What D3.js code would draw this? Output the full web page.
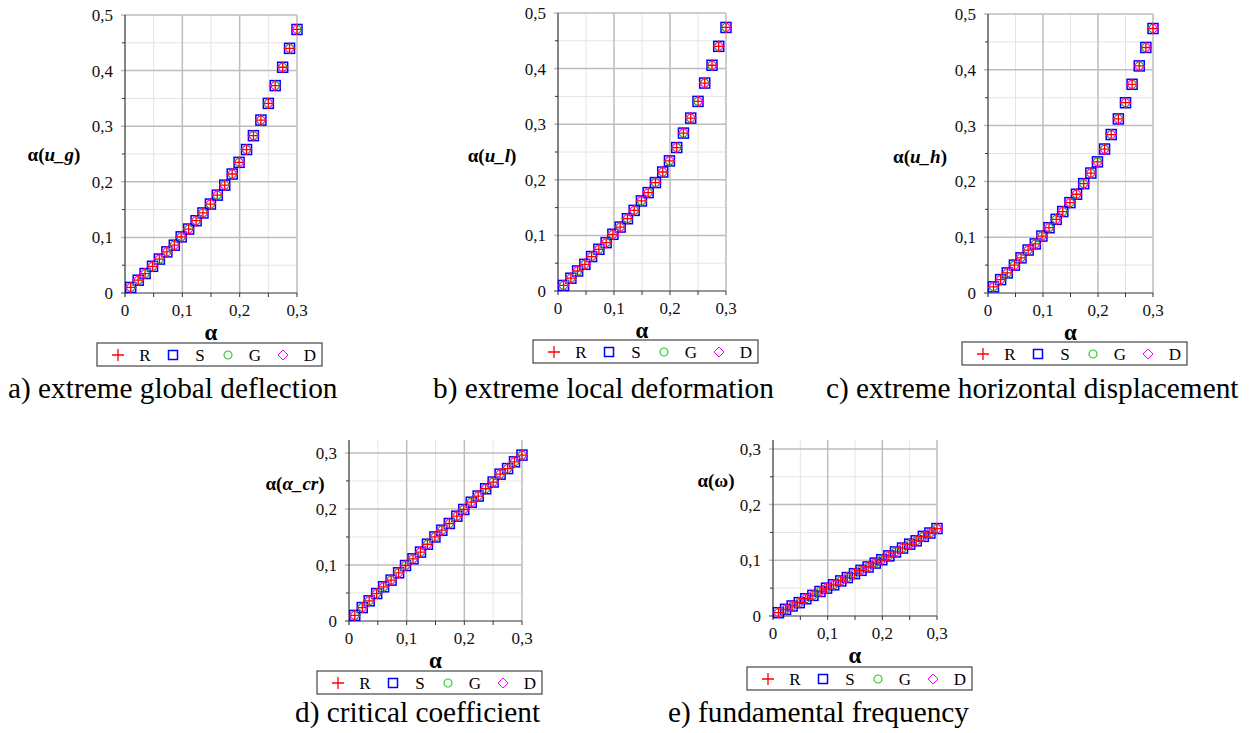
<!DOCTYPE html>
<html>
<head>
<meta charset="utf-8">
<script src="https://cdn.jsdelivr.net/npm/d3@7"></script>
<style>
    body { margin: 0; background: #fff; }
    svg { display: block; }
</style>
</head>
<body>
<div id="svg_wrapper"></div>
<script>
// alpha values on the x axis (same for every panel)
const alphas = [0.010, 0.023, 0.035, 0.048, 0.060, 0.073, 0.086, 0.098, 0.111, 0.124, 0.136, 0.149,
                0.161, 0.174, 0.187, 0.199, 0.212, 0.224, 0.237, 0.250, 0.262, 0.275, 0.287, 0.300];

const globalDeflection = [0.010, 0.023, 0.035, 0.048, 0.061, 0.074, 0.086, 0.101, 0.115, 0.130, 0.144, 0.160,
                          0.176, 0.194, 0.214, 0.235, 0.258, 0.283, 0.311, 0.341, 0.373, 0.406, 0.440, 0.474];
const localDeformation = [0.010, 0.023, 0.036, 0.048, 0.062, 0.075, 0.087, 0.102, 0.115, 0.130, 0.145, 0.162,
                          0.177, 0.195, 0.214, 0.234, 0.258, 0.284, 0.311, 0.341, 0.374, 0.406, 0.440, 0.474];
const horizontalDisplacement = [0.011, 0.024, 0.036, 0.050, 0.063, 0.077, 0.088, 0.102, 0.117, 0.132, 0.146, 0.162,
                                0.177, 0.196, 0.215, 0.235, 0.258, 0.284, 0.312, 0.341, 0.374, 0.407, 0.440, 0.474];
const criticalCoefficient = [0.010, 0.024, 0.036, 0.049, 0.061, 0.073, 0.086, 0.099, 0.111, 0.123, 0.137, 0.150,
                             0.162, 0.174, 0.187, 0.199, 0.212, 0.223, 0.236, 0.248, 0.262, 0.272, 0.284, 0.296];
const fundamentalFrequency = [0.006, 0.012, 0.018, 0.024, 0.031, 0.037, 0.044, 0.050, 0.056, 0.063, 0.069, 0.076,
                              0.082, 0.088, 0.095, 0.101, 0.108, 0.115, 0.122, 0.129, 0.135, 0.143, 0.149, 0.157];

const xTicks = [0, 0.1, 0.2, 0.3];
const seriesNames = ['R', 'S', 'G', 'D'];
const seriesColors = ['#ff0000', '#0000ff', '#33cc33', '#ff00ff'];

const panels = [
    { values: globalDeflection, yMax: 0.5, yTicks: [0, 0.1, 0.2, 0.3, 0.4, 0.5],
      label: ['α(', 'u_g', ')'], caption: 'a) extreme global deflection',
      x0: 125, x1: 297, yb: 293, yt: 15, lab: [54, 155], leg: [97, 343], cap: [8, 398] },
    { values: localDeformation, yMax: 0.5, yTicks: [0, 0.1, 0.2, 0.3, 0.4, 0.5],
      label: ['α(', 'u_l', ')'], caption: 'b) extreme local deformation',
      x0: 558, x1: 726, yb: 291, yt: 13, lab: [492, 156], leg: [533, 340], cap: [433, 398] },
    { values: horizontalDisplacement, yMax: 0.5, yTicks: [0, 0.1, 0.2, 0.3, 0.4, 0.5],
      label: ['α(', 'u_h', ')'], caption: 'c) extreme horizontal displacement',
      x0: 988, x1: 1153, yb: 293, yt: 14, lab: [920, 157], leg: [962, 342], cap: [826, 398] },
    { values: criticalCoefficient, yMax: 0.323, yTicks: [0, 0.1, 0.2, 0.3],
      label: ['α(', 'α_cr', ')'], caption: 'd) critical coefficient',
      x0: 349, x1: 522, yb: 621, yt: 440, lab: [295, 484], leg: [317, 671], cap: [295, 722] },
    { values: fundamentalFrequency, yMax: 0.316, yTicks: [0, 0.1, 0.2, 0.3],
      label: ['α(ω)', '', ''], caption: 'e) fundamental frequency',
      x0: 773, x1: 937, yb: 616, yt: 440, lab: [716, 481], leg: [747, 667], cap: [668, 722] }
];

const width = 1256, height = 733;
const fontFamily = '"Liberation Serif", "Times New Roman", "DejaVu Serif", serif';
const fmt = v => d3.format('.1f')(v).replace('.', ',').replace(/^0,0$/, '0');

const svg = d3.select('#svg_wrapper')
    .append('svg')
    .attr('width', width)
    .attr('height', height)
    .attr('viewBox', `0 0 ${width} ${height}`)
    .attr('font-family', fontFamily);

function drawMarker(g, i, size) {
    const h = size / 2;
    if (i === 0) {
        g.append('path').attr('d', `M${-h},0H${h}M0,${-h}V${h}`)
            .attr('stroke', seriesColors[0]).attr('stroke-width', 1.3).attr('fill', 'none');
    } else if (i === 1) {
        g.append('rect').attr('x', -h + 0.5).attr('y', -h + 0.5).attr('width', size - 1).attr('height', size - 1)
            .attr('stroke', seriesColors[1]).attr('stroke-width', 1.5).attr('fill', 'none');
    } else if (i === 2) {
        g.append('circle').attr('r', h - 1)
            .attr('stroke', seriesColors[2]).attr('stroke-width', 1.2).attr('fill', 'none');
    } else {
        g.append('path').attr('d', `M0,${-h}L${h},0L0,${h}L${-h},0Z`)
            .attr('stroke', seriesColors[3]).attr('stroke-width', 1).attr('fill', 'none');
    }
}

function drawPanel(p) {
    const x = d3.scaleLinear().domain([0, 0.3]).range([p.x0, p.x1]);
    const y = d3.scaleLinear().domain([0, p.yMax]).range([p.yb, p.yt]);
    const g = svg.append('g');

    const minorX = d3.range(0.05, 0.31, 0.1);
    const minorY = d3.range(0.05, p.yMax, 0.1);

    // grid
    g.selectAll('.mx').data(minorX).enter().append('line')
        .attr('x1', d => x(d)).attr('x2', d => x(d)).attr('y1', p.yb).attr('y2', p.yt)
        .attr('stroke', '#e4e4e4').attr('stroke-width', 1);
    g.selectAll('.my').data(minorY).enter().append('line')
        .attr('x1', p.x0).attr('x2', p.x1).attr('y1', d => y(d)).attr('y2', d => y(d))
        .attr('stroke', '#e4e4e4').attr('stroke-width', 1);
    g.selectAll('.gx').data(xTicks.slice(1)).enter().append('line')
        .attr('x1', d => x(d)).attr('x2', d => x(d)).attr('y1', p.yb).attr('y2', p.yt)
        .attr('stroke', '#bdbdbd').attr('stroke-width', 1.5);
    g.selectAll('.gy').data(p.yTicks.slice(1)).enter().append('line')
        .attr('x1', p.x0 - 4).attr('x2', p.x1).attr('y1', d => y(d)).attr('y2', d => y(d))
        .attr('stroke', '#bdbdbd').attr('stroke-width', 1.5);

    // axes
    const axisColor = '#333';
    g.append('line').attr('x1', p.x0).attr('x2', p.x0).attr('y1', p.yt).attr('y2', p.yb + 4)
        .attr('stroke', axisColor).attr('stroke-width', 1.2);
    g.append('line').attr('x1', p.x0 - 4).attr('x2', p.x1).attr('y1', p.yb).attr('y2', p.yb)
        .attr('stroke', axisColor).attr('stroke-width', 1.2);
    g.selectAll('.tx').data(minorX.concat(xTicks.slice(1))).enter().append('line')
        .attr('x1', d => x(d)).attr('x2', d => x(d)).attr('y1', p.yb).attr('y2', p.yb + 4)
        .attr('stroke', axisColor).attr('stroke-width', 1);
    g.selectAll('.ty').data(minorY).enter().append('line')
        .attr('x1', p.x0 - 3).attr('x2', p.x0).attr('y1', d => y(d)).attr('y2', d => y(d))
        .attr('stroke', axisColor).attr('stroke-width', 1);

    // tick labels
    g.selectAll('.lx').data(xTicks).enter().append('text')
        .attr('x', d => x(d)).attr('y', p.yb + 23)
        .attr('text-anchor', 'middle').attr('font-size', 17).attr('fill', '#111')
        .text(fmt);
    g.selectAll('.ly').data(p.yTicks).enter().append('text')
        .attr('x', p.x0 - 12).attr('y', d => y(d) + 6)
        .attr('text-anchor', 'end').attr('font-size', 17).attr('fill', '#111')
        .text(fmt);

    // axis titles
    g.append('text').attr('x', (p.x0 + p.x1) / 2).attr('y', p.yb + 47)
        .attr('text-anchor', 'middle').attr('font-size', 23).attr('font-weight', 'bold')
        .text('α');
    const yl = g.append('text').attr('x', p.lab[0]).attr('y', p.lab[1] + 6)
        .attr('text-anchor', 'middle').attr('font-size', 19).attr('font-weight', 'bold');
    yl.append('tspan').text(p.label[0]);
    if (p.label[1]) {
        yl.append('tspan').attr('font-style', 'italic').text(p.label[1]);
        yl.append('tspan').text(p.label[2]);
    }

    // points, drawn per series in order S, G, D, R so the plus sits on top
    [1, 2, 3, 0].forEach(si => {
        const pts = g.append('g').selectAll('g').data(p.values).enter().append('g')
            .attr('transform', (d, i) => `translate(${x(alphas[i])},${y(d)})`);
        pts.each(function() { drawMarker(d3.select(this), si, si === 2 ? 10 : 11); });
    });

    // legend
    const lg = g.append('g').attr('transform', `translate(${p.leg[0]},${p.leg[1]})`);
    lg.append('rect').attr('width', 225).attr('height', 23)
        .attr('fill', '#fff').attr('stroke', '#444').attr('stroke-width', 1.2);
    seriesNames.forEach((name, i) => {
        const m = lg.append('g').attr('transform', `translate(${21 + i * 55},12)`);
        drawMarker(m, i, i === 0 ? 12 : 10);
        lg.append('text').attr('x', 48 + i * 55).attr('y', 18)
            .attr('text-anchor', 'middle').attr('font-size', 17).text(name);
    });

    // caption
    svg.append('text').attr('x', p.cap[0]).attr('y', p.cap[1])
        .attr('font-size', 29.3).attr('fill', '#000').text(p.caption);
}

panels.forEach(drawPanel);
</script>
</body>
</html>
